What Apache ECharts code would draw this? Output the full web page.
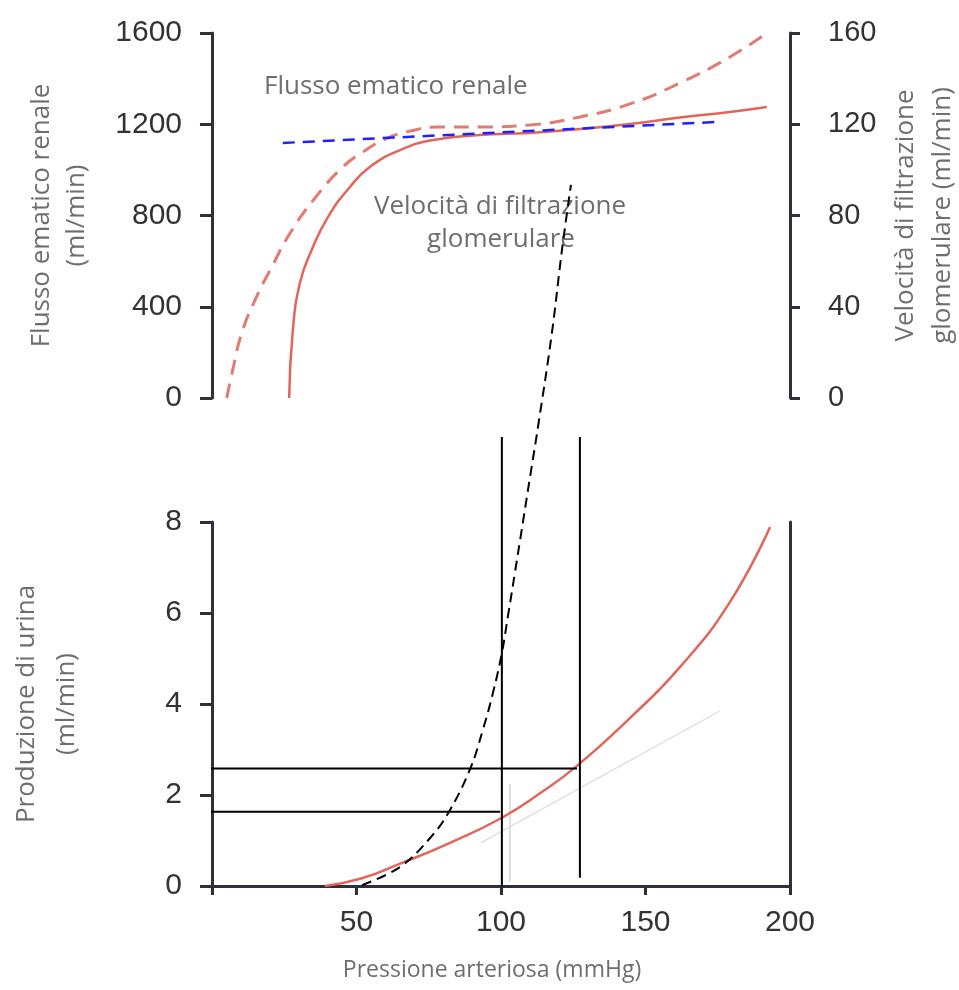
<!DOCTYPE html>
<html>
<head>
<meta charset="utf-8">
<script src="https://cdn.jsdelivr.net/npm/echarts@6/dist/echarts.min.js"></script>
<style>
html,body{margin:0;padding:0;background:#fff;}
#chart{width:959px;height:990px;}
</style>
</head>
<body>
<div id="chart"></div>
<script>
// ---- Data ----
// Top panel: renal blood flow (ml/min, left axis) vs arterial pressure (mmHg)
const rbfX = [5.1, 7.4, 10.3, 14.9, 20.7, 27.0, 35.1, 45.3, 52.2, 59.9, 68.5, 78.9, 92.7, 110.0, 127.3, 144.6, 161.9, 179.2, 192.0];
const rbfY = [0, 136, 285, 430, 575, 722, 868, 1013, 1078, 1135, 1170, 1188, 1188, 1197, 1232, 1289, 1381, 1495, 1600];
// Top panel: glomerular filtration rate (ml/min, right axis)
const gfrX = [26.7, 27.9, 30.4, 34.5, 40.2, 47.8, 54.7, 65.1, 76.5, 92.7, 110.0, 127.3, 144.6, 161.9, 179.2, 192.0];
const gfrY = [0, 28.5, 50.3, 64.9, 79.5, 92.6, 101.4, 108.7, 113.1, 115.3, 116.2, 117.9, 120.1, 123.0, 125.4, 127.6];
// Top panel: blue dashed reference line (left axis)
const blueX = [24.5, 174.5];
const blueY = [1118, 1210];
// Bottom panel: urine output (ml/min)
const urineX = [39.1, 51.9, 65.1, 82.4, 100.3, 113.5, 126.3, 144.6, 161.9, 179.2, 193.1];
const urineY = [0, 0.17, 0.49, 0.95, 1.50, 2.04, 2.64, 3.69, 4.81, 6.24, 7.89];
// Bottom panel: faint pencil marks
const pencilX = [93.0, 175.8];
const pencilY = [0.95, 3.85];
const pencilVX = [103.1, 103.1];
const pencilVY = [0.09, 2.24];
// Bottom panel: black dashed hand-drawn curve (extends above the panel)
const blackDashX = [51.9, 65.1, 75.4, 81.7, 89.3, 93.8, 97.2, 100.3, 102.4, 104.8, 106.6, 110.0, 112.8, 117.6, 121.1, 124.2];
const blackDashY = [0.02, 0.42, 1.05, 1.60, 2.57, 3.45, 4.24, 5.12, 5.93, 6.88, 7.60, 8.97, 10.09, 12.15, 13.98, 15.41];
// Bottom panel: black guide lines (vertical and horizontal)
const vLine1X = [100.3, 100.3], vLine1Y = [-0.02, 9.87];
const vLine2X = [127.3, 127.3], vLine2Y = [0.18, 9.87];
const hLine1X = [-3.5, 126.3], hLine1Y = [2.58, 2.58];
const hLine2X = [-5.2, 99.7], hLine2Y = [1.63, 1.63];

// Axis ranges / tick steps
const pressureRange = [0, 200, 50];
const flowRange = [0, 1600, 400];
const gfrRange = [0, 160, 40];
const urineRange = [0, 8, 2];

// Texts
const txtFlow = 'Flusso ematico renale';
const txtGfr1 = 'Velocità di filtrazione';
const txtGfr2 = 'glomerulare';
const nameFlow = 'Flusso ematico renale\n(ml/min)';
const nameGfr = 'Velocità di filtrazione\nglomerulare (ml/min)';
const nameUrine = 'Produzione di urina\n(ml/min)';
const namePressure = 'Pressione arteriosa (mmHg)';

const zip = (xs, ys) => xs.map((x, i) => [x, ys[i]]);

const axisColor = '#2e303c';
const numFont = {fontFamily: 'Liberation Sans', fontSize: 30, color: '#333333'};
const nameColor = '#6e6e6e';
const red = '#e2655a';
const redDash = '#e27b71';
const plain = v => String(v);

const chart = echarts.init(document.getElementById('chart'));
chart.setOption({
  animation: false,
  backgroundColor: '#ffffff',
  grid: [
    {left: 212, right: 169, top: 33, height: 365, containLabel: false, outerBoundsMode: 'none'},
    {left: 212, right: 169, top: 522, height: 364, containLabel: false, outerBoundsMode: 'none'}
  ],
  xAxis: [
    {gridIndex: 0, type: 'value', min: pressureRange[0], max: pressureRange[1], interval: pressureRange[2], show: false},
    {gridIndex: 1, type: 'value', min: pressureRange[0], max: pressureRange[1], interval: pressureRange[2],
      axisLine: {lineStyle: {color: axisColor, width: 3}},
      axisTick: {length: 9, lineStyle: {color: axisColor, width: 3}},
      splitLine: {show: false},
      axisLabel: Object.assign({margin: 22, formatter: v => v === 0 ? '' : String(v)}, numFont),
      name: namePressure, nameLocation: 'middle', nameGap: 70,
      nameTextStyle: {fontFamily: 'Open Sans', fontSize: 23, color: nameColor, padding: [3, 18, 0, 0]}
    }
  ],
  yAxis: [
    {gridIndex: 0, type: 'value', min: flowRange[0], max: flowRange[1], interval: flowRange[2], position: 'left',
      axisLine: {show: true, lineStyle: {color: axisColor, width: 3}},
      axisTick: {show: true, length: 12, lineStyle: {color: axisColor, width: 3}},
      splitLine: {show: false},
      axisLabel: Object.assign({margin: 30, formatter: plain}, numFont),
      name: nameFlow, nameLocation: 'middle', nameGap: 118,
      nameTextStyle: {fontFamily: 'Open Sans', fontSize: 26, color: nameColor, lineHeight: 35}
    },
    {gridIndex: 0, type: 'value', min: gfrRange[0], max: gfrRange[1], interval: gfrRange[2], position: 'right',
      axisLine: {show: true, lineStyle: {color: axisColor, width: 3}},
      axisTick: {show: true, length: 10, lineStyle: {color: axisColor, width: 3}},
      splitLine: {show: false},
      axisLabel: Object.assign({margin: 38, formatter: plain}, numFont, {fontSize: 29}),
      name: nameGfr, nameLocation: 'middle', nameGap: 97,
      nameTextStyle: {fontFamily: 'Open Sans', fontSize: 26, color: nameColor, lineHeight: 37}
    },
    {gridIndex: 1, type: 'value', min: urineRange[0], max: urineRange[1], interval: urineRange[2], position: 'left',
      axisLine: {show: true, lineStyle: {color: axisColor, width: 3}},
      axisTick: {show: true, length: 12, lineStyle: {color: axisColor, width: 3}},
      splitLine: {show: false},
      axisLabel: Object.assign({margin: 30, formatter: plain}, numFont),
      name: nameUrine, nameLocation: 'middle', nameGap: 125,
      nameTextStyle: {fontFamily: 'Open Sans', fontSize: 26, color: nameColor, lineHeight: 40}
    },
    {gridIndex: 1, type: 'value', min: urineRange[0], max: urineRange[1], interval: urineRange[2], position: 'right',
      axisLine: {show: true, lineStyle: {color: axisColor, width: 3}},
      axisTick: {show: false}, axisLabel: {show: false}, splitLine: {show: false}
    }
  ],
  graphic: [
    {type: 'text', x: 264, y: 87, style: {text: txtFlow, textAlign: 'left', textVerticalAlign: 'middle',
      font: '26px "Open Sans"', fill: nameColor}},
    {type: 'text', x: 500, y: 207, style: {text: txtGfr1, textAlign: 'center', textVerticalAlign: 'middle',
      font: '26px "Open Sans"', fill: nameColor}},
    {type: 'text', x: 501, y: 240, style: {text: txtGfr2, textAlign: 'center', textVerticalAlign: 'middle',
      font: '26px "Open Sans"', fill: nameColor}}
  ],
  series: [
    {type: 'line', name: 'Flusso ematico renale', xAxisIndex: 0, yAxisIndex: 0, data: zip(rbfX, rbfY),
      smooth: 0.5, showSymbol: false, symbol: 'none',
      lineStyle: {color: redDash, width: 3, type: [15, 9]}},
    {type: 'line', name: 'Velocità di filtrazione glomerulare', xAxisIndex: 0, yAxisIndex: 1, data: zip(gfrX, gfrY),
      smooth: 0.5, showSymbol: false, symbol: 'none',
      lineStyle: {color: red, width: 2.5}},
    {type: 'line', xAxisIndex: 0, yAxisIndex: 0, data: zip(blueX, blueY), showSymbol: false, symbol: 'none',
      lineStyle: {color: '#1f1fff', width: 2.5, type: [12, 8]}, z: 5},
    {type: 'line', xAxisIndex: 1, yAxisIndex: 2, data: zip(pencilX, pencilY), showSymbol: false, symbol: 'none',
      lineStyle: {color: '#e2e2e2', width: 1.5}, z: 1},
    {type: 'line', xAxisIndex: 1, yAxisIndex: 2, data: zip(pencilVX, pencilVY), showSymbol: false, symbol: 'none',
      lineStyle: {color: '#d6d6d6', width: 1.5}, z: 1},
    {type: 'line', name: 'Produzione di urina', xAxisIndex: 1, yAxisIndex: 2, data: zip(urineX, urineY),
      smooth: 0.5, showSymbol: false, symbol: 'none',
      lineStyle: {color: red, width: 2.5}, z: 3},
    {type: 'line', xAxisIndex: 1, yAxisIndex: 2, data: zip(vLine1X, vLine1Y), clip: false, showSymbol: false, symbol: 'none',
      lineStyle: {color: '#000', width: 2}, z: 6},
    {type: 'line', xAxisIndex: 1, yAxisIndex: 2, data: zip(vLine2X, vLine2Y), clip: false, showSymbol: false, symbol: 'none',
      lineStyle: {color: '#000', width: 2}, z: 6},
    {type: 'line', xAxisIndex: 1, yAxisIndex: 2, data: zip(hLine1X, hLine1Y), clip: false, showSymbol: false, symbol: 'none',
      lineStyle: {color: '#000', width: 2}, z: 6},
    {type: 'line', xAxisIndex: 1, yAxisIndex: 2, data: zip(hLine2X, hLine2Y), clip: false, showSymbol: false, symbol: 'none',
      lineStyle: {color: '#000', width: 2}, z: 6},
    {type: 'line', xAxisIndex: 1, yAxisIndex: 2, data: zip(blackDashX, blackDashY), clip: false,
      smooth: 0.4, showSymbol: false, symbol: 'none',
      lineStyle: {color: '#000', width: 2, type: [10, 6]}, z: 7}
  ]
});
</script>
</body>
</html>
